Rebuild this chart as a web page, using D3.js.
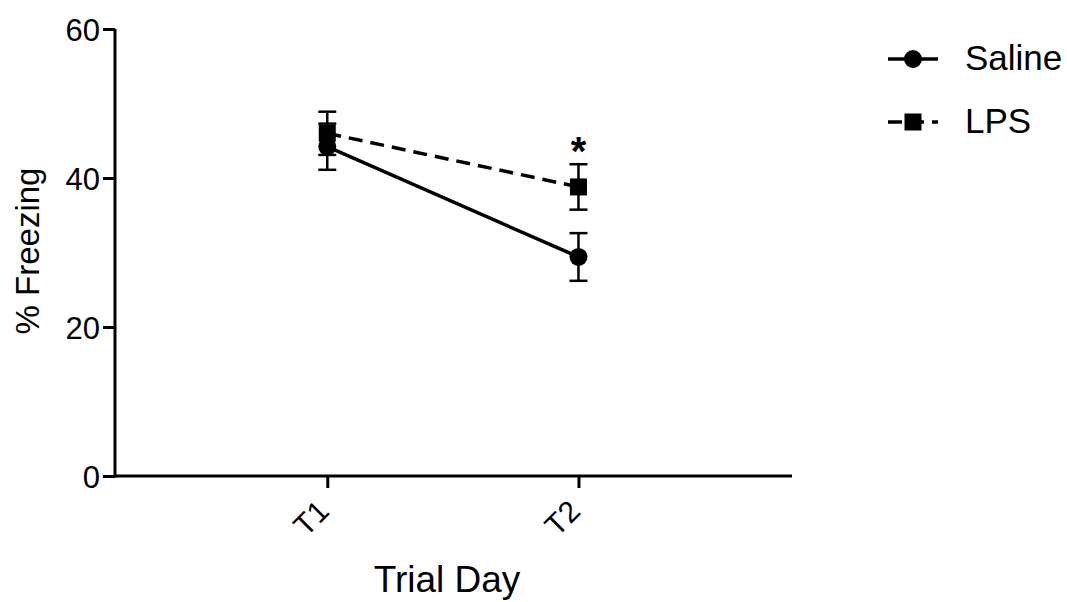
<!DOCTYPE html>
<html>
<head>
<meta charset="utf-8">
<script src="https://cdn.jsdelivr.net/npm/d3@7"></script>
<style>
  body { margin: 0; background: #fff; }
  svg { font-family: "Liberation Sans", Arial, sans-serif; }
</style>
</head>
<body>
<div id="plot"></div>
<script>
// Data
const trialDays = ["T1", "T2"];
const salineMean = [44.2, 29.4];
const salineSem = [3.1, 3.2];
const lpsMean = [46.0, 38.8];
const lpsSem = [2.9, 3.05];
const yTicks = [0, 20, 40, 60];
const seriesNames = ["Saline", "LPS"];

const width = 1067, height = 602;
const svg = d3.select('#plot').append('svg')
  .attr('width', width).attr('height', height);

// Scales
const x = d3.scaleLinear().domain([0.155, 2.85]).range([115, 792]);
const y = d3.scaleLinear().domain([0, 60]).range([476, 29]);

// Y axis
const yAxis = svg.append('g')
  .attr('transform', 'translate(115,0)')
  .call(d3.axisLeft(y).tickValues(yTicks).tickSize(12).tickPadding(3));
yAxis.select('.domain').attr('stroke-width', 3).attr('d', `M0,${y(60)}V${y(0) + 1.5}`);
yAxis.selectAll('.tick line').attr('stroke-width', 3);
yAxis.selectAll('.tick text').attr('font-size', 31).attr('fill', '#000').attr('dy', '0.36em');

// X axis
const xAxis = svg.append('g')
  .attr('transform', `translate(0,${y(0)})`)
  .call(d3.axisBottom(x).tickValues([1, 2]).tickFormat((d, i) => trialDays[i]).tickSize(12).tickSizeOuter(0));
xAxis.select('.domain').attr('stroke-width', 3).attr('d', `M${x.range()[0] - 1.5},0H${x.range()[1]}`);
xAxis.selectAll('.tick line').attr('stroke-width', 3);
xAxis.selectAll('.tick text')
  .attr('font-size', 30).attr('fill', '#000')
  .attr('text-anchor', 'end')
  .attr('dy', null)
  .attr('y', 0)
  .attr('transform', 'translate(3,37) rotate(-45)');

// Axis titles
svg.append('text')
  .attr('x', 447).attr('y', 592)
  .attr('text-anchor', 'middle').attr('font-size', 37)
  .text('Trial Day');
svg.append('text')
  .attr('transform', 'translate(39,251) rotate(-90)')
  .attr('text-anchor', 'middle').attr('font-size', 33)
  .text('% Freezing');

const salineData = trialDays.map((d, i) => ({ x: i + 1, m: salineMean[i], s: salineSem[i] }));
const lpsData = trialDays.map((d, i) => ({ x: i + 1, m: lpsMean[i], s: lpsSem[i] }));

const line = d3.line().x(d => x(d.x)).y(d => y(d.m));

function errorBars(data) {
  const g = svg.append('g').attr('stroke', '#000').attr('stroke-width', 2.5);
  data.forEach(d => {
    g.append('line').attr('x1', x(d.x)).attr('x2', x(d.x))
      .attr('y1', y(d.m - d.s)).attr('y2', y(d.m + d.s));
    [d.m - d.s, d.m + d.s].forEach(v => {
      g.append('line').attr('x1', x(d.x) - 9).attr('x2', x(d.x) + 9)
        .attr('y1', y(v)).attr('y2', y(v));
    });
  });
}

// LPS (dashed, squares)
errorBars(lpsData);
svg.append('path').datum(lpsData)
  .attr('d', line).attr('fill', 'none').attr('stroke', '#000')
  .attr('stroke-width', 3.5).attr('stroke-dasharray', '14,8');

// Saline (solid, circles)
errorBars(salineData);
svg.append('path').datum(salineData)
  .attr('d', line).attr('fill', 'none').attr('stroke', '#000')
  .attr('stroke-width', 3.5);

svg.selectAll('.sq').data(lpsData).enter().append('rect')
  .attr('x', d => x(d.x) - 8.5).attr('y', d => y(d.m) - 8.5)
  .attr('width', 17).attr('height', 17).attr('fill', '#000');
svg.selectAll('.ci').data(salineData).enter().append('circle')
  .attr('cx', d => x(d.x)).attr('cy', d => y(d.m)).attr('r', 9).attr('fill', '#000');

// Significance marker
svg.append('text')
  .attr('x', x(2)).attr('y', 165)
  .attr('text-anchor', 'middle').attr('font-size', 40).attr('font-weight', 'bold')
  .text('*');

// Legend
const legend = svg.append('g');
seriesNames.forEach((name, i) => {
  const ly = 59 + i * 63;
  const g = legend.append('g');
  if (i === 0) {
    g.append('line').attr('x1', 888).attr('x2', 938).attr('y1', ly).attr('y2', ly)
      .attr('stroke', '#000').attr('stroke-width', 3.5);
    g.append('circle').attr('cx', 913).attr('cy', ly).attr('r', 9).attr('fill', '#000');
  } else {
    g.append('line').attr('x1', 888).attr('x2', 938).attr('y1', ly).attr('y2', ly)
      .attr('stroke', '#000').attr('stroke-width', 3.5).attr('stroke-dasharray', '14,8');
    g.append('rect').attr('x', 904.5).attr('y', ly - 8.5).attr('width', 17).attr('height', 17).attr('fill', '#000');
  }
  g.append('text').attr('x', 965).attr('y', ly + 11)
    .attr('font-size', 35).text(name);
});
</script>
</body>
</html>
